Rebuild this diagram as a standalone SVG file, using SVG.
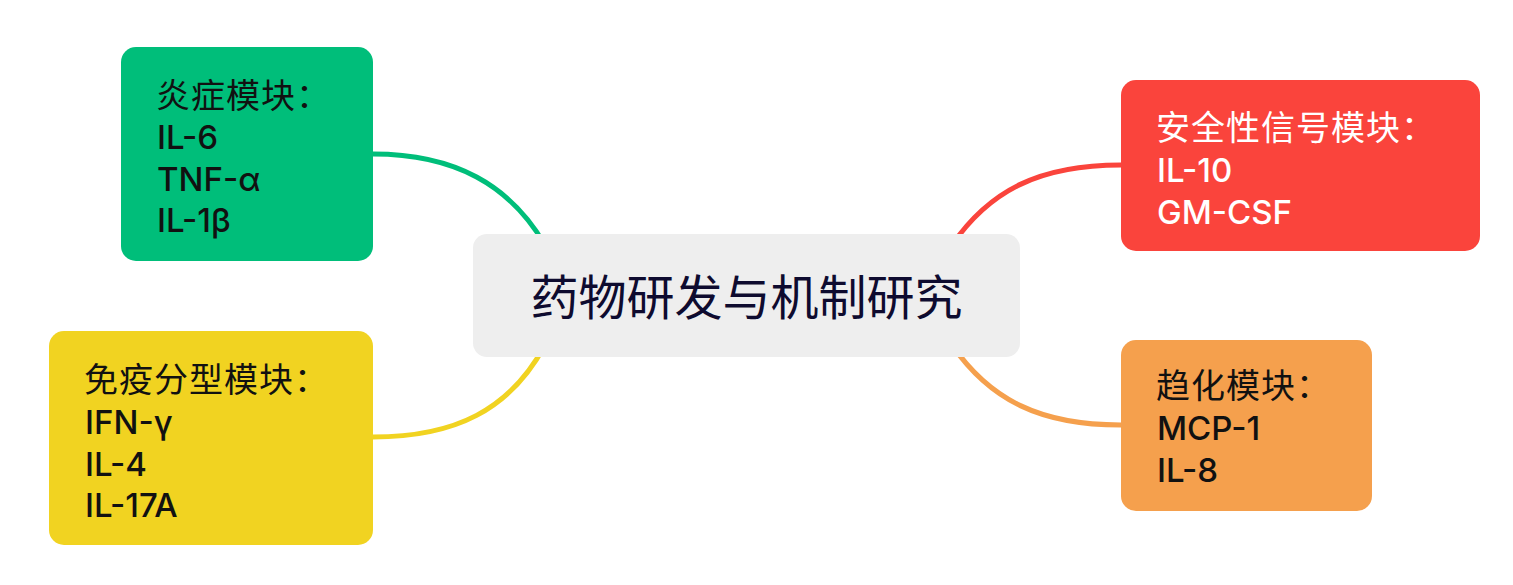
<svg xmlns="http://www.w3.org/2000/svg" width="1513" height="585" viewBox="0 0 1513 585">
<style>
.t{font-family:"Inter","Noto Sans CJK SC",sans-serif;font-size:33px;font-weight:500;fill:#111111}
.z{font-size:34px;font-weight:400}
.w{fill:#FFFFFF}
.c{fill:none;stroke-width:5;stroke-linecap:round}
.title{font-family:"Noto Sans CJK SC","Noto Sans",sans-serif;font-size:48px;fill:#0E0B2F}
</style>
<rect width="1513" height="585" fill="#FFFFFF"/>
<g id="connectors">
<path class="c" stroke="#00BE7A" d="M373,154 C455,154 510,185 545,245"/>
<path class="c" stroke="#F1D321" d="M373,437 C455,437 510,410 545,345"/>
<path class="c" stroke="#FA443C" d="M1121,165 C1040,165 990,190 952,245"/>
<path class="c" stroke="#F5A04D" d="M1121,425 C1040,425 990,400 952,345"/>
</g>
<g id="center">
<rect x="473" y="234" width="547" height="123" rx="14" fill="#EEEEEE"/>
<text class="title" x="746.5" y="315" text-anchor="middle">药物研发与机制研究</text>
</g>
<g id="inflammation">
<rect x="121" y="47" width="252" height="214" rx="15" fill="#00BE7A"/>
<text class="t z" x="156" y="108" letter-spacing="1">炎症模块：</text>
<text class="t" x="157" y="149">IL-6</text>
<text class="t" x="157" y="191">TNF-α</text>
<text class="t" x="157" y="232">IL-1β</text>
</g>
<g id="immune">
<rect x="49" y="331" width="324" height="214" rx="15" fill="#F1D321"/>
<text class="t z" x="84" y="392" letter-spacing="1">免疫分型模块：</text>
<text class="t" x="85" y="434">IFN-γ</text>
<text class="t" x="85" y="476">IL-4</text>
<text class="t" x="85" y="517">IL-17A</text>
</g>
<g id="safety">
<rect x="1121" y="80" width="359" height="171" rx="15" fill="#FA443C"/>
<text class="t z w" x="1156" y="140" letter-spacing="1">安全性信号模块：</text>
<text class="t w" x="1157" y="182">IL-10</text>
<text class="t w" x="1157" y="224">GM-CSF</text>
</g>
<g id="chemotaxis">
<rect x="1121" y="340" width="251" height="171" rx="15" fill="#F5A04D"/>
<text class="t z" x="1156" y="398" letter-spacing="1">趋化模块：</text>
<text class="t" x="1157" y="440">MCP-1</text>
<text class="t" x="1157" y="482">IL-8</text>
</g>
</svg>
